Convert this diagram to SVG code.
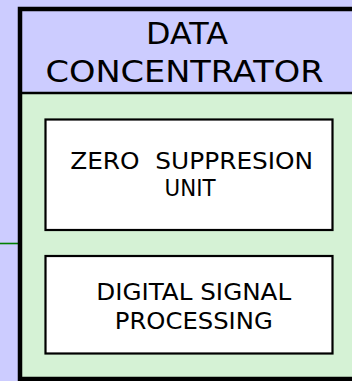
<svg xmlns="http://www.w3.org/2000/svg" width="352" height="381" viewBox="0 0 352 381">
<style>
.t{font-family:"DejaVu Sans",sans-serif;fill:#000;text-anchor:middle;white-space:pre}
.h{font-size:30px}
.s{font-size:22.5px}
.box{fill:#fff;stroke:#000;stroke-width:2.2}
</style>
<rect x="0" y="0" width="352" height="381" fill="#ccccff"/>
<g id="connectors">
<line x1="0" y1="243.5" x2="20" y2="243.5" stroke="#008000" stroke-width="1.6"/>
</g>
<g id="data-concentrator">
<rect x="20" y="9" width="340" height="84" fill="#ccccff"/>
<rect x="20" y="93" width="340" height="286" fill="#d5f2d5"/>
<line x1="20" y1="93" x2="352" y2="93" stroke="#000" stroke-width="2.5"/>
<path d="M360 9 H20 V379 H360" fill="none" stroke="#000" stroke-width="4.5"/>
<text class="t h" x="187" y="44.3" textLength="82" lengthAdjust="spacingAndGlyphs">DATA</text>
<text class="t h" x="184.5" y="81.7" textLength="278" lengthAdjust="spacingAndGlyphs">CONCENTRATOR</text>
</g>
<g id="zero-suppresion-unit">
<rect class="box" x="45.5" y="119.5" width="287" height="110.5"/>
<text class="t s" x="191.7" y="169" textLength="243" lengthAdjust="spacingAndGlyphs">ZERO  SUPPRESION</text>
<text class="t s" x="190" y="195.7" textLength="51" lengthAdjust="spacingAndGlyphs">UNIT</text>
</g>
<g id="digital-signal-processing">
<rect class="box" x="45.5" y="256" width="287" height="97.5"/>
<text class="t s" x="193.7" y="300" textLength="195" lengthAdjust="spacingAndGlyphs">DIGITAL SIGNAL</text>
<text class="t s" x="193.8" y="329" textLength="158" lengthAdjust="spacingAndGlyphs">PROCESSING</text>
</g>
</svg>
